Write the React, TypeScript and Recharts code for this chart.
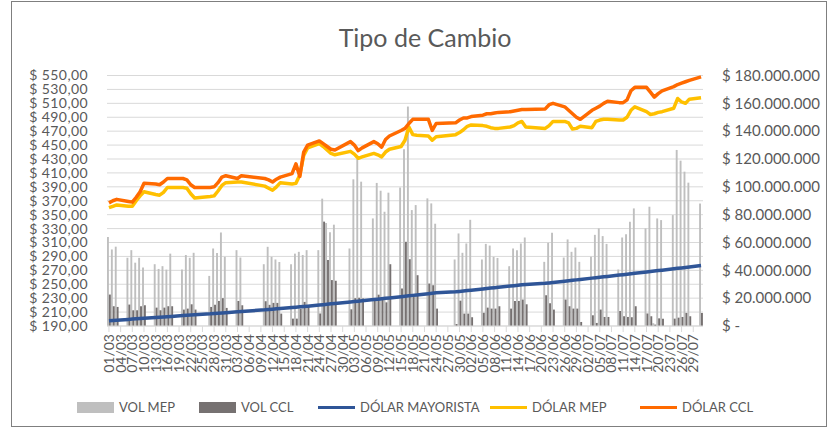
import React from 'react';
import { ComposedChart, Bar, Line, XAxis, YAxis, CartesianGrid, Legend } from 'recharts';

const tradeDays = [
  '01/03', '02/03', '03/03', '06/03', '07/03', '08/03', '09/03', '10/03', '13/03', '14/03', '15/03', '16/03', '17/03',
  '20/03', '21/03', '22/03', '23/03', '27/03', '28/03', '29/03', '30/03', '31/03',
  '03/04', '04/04', '10/04', '11/04', '12/04', '13/04', '14/04', '17/04', '18/04', '19/04', '20/04', '21/04',
  '24/04', '25/04', '26/04', '27/04', '28/04',
  '02/05', '03/05', '04/05', '05/05', '08/05', '09/05', '10/05', '11/05', '12/05', '15/05', '16/05', '17/05', '18/05', '19/05',
  '22/05', '23/05', '24/05', '29/05', '30/05', '31/05',
  '01/06', '02/06', '05/06', '06/06', '07/06', '08/06', '09/06', '12/06', '13/06', '14/06', '15/06', '16/06',
  '21/06', '22/06', '23/06', '26/06', '27/06', '28/06', '29/06', '30/06',
  '03/07', '04/07', '05/07', '06/07', '07/07', '10/07', '11/07', '12/07', '13/07', '14/07', '17/07', '18/07', '19/07', '20/07', '21/07',
  '24/07', '25/07', '26/07', '27/07', '28/07', '31/07',
];

// volumes in millions of $
const volMep = [
  64, 55, 57, 49, 54.5, 45.5, 49, 42, 44.4, 41, 43, 40.5, 52, 40.6, 51, 49, 52.6, 36, 55.7, 52.4, 67.2, 49.7,
  54.5, 49.2, 44.4, 56.9, 49.7, 47.8, 46, 44.4, 52, 53.3, 51, 54.5, 54.5, 91.5, 74, 67.3, 72.8,
  55.7, 105.4, 120, 103.7, 77.3, 102.8, 97.2, 82.1, 95.8, 99.5, 127, 157.7, 83.3, 86.9, 91.7, 88.1, 73.5, 47.8, 66.5, 52.6,
  59.3, 76.3, 47.8, 59, 57.8, 49.7, 48.9, 43, 55.7, 54.5, 59.3, 63.6, 46.1, 59.8, 67, 49.2, 62.2, 53.3, 56.4, 46.1,
  49.7, 65.5, 70.1, 64.6, 59, 40.6, 63.6, 66, 74.9, 84.5, 70.1, 85.7, 2, 77.3, 76.1, 79.7, 126.5, 118.8, 110.9, 103, 88,
];
const volCcl = [
  22.6, 14.2, 13.7, 15.4, 11.3, 11.3, 14.2, 14.9, 13.2, 11.3, 13.2, 14.2, 14.2, 11.8, 12.5, 15.6, 11.8, 13.7, 15.2, 18, 20, 13,
  18, 14.9, 17.8, 15.2, 16.6, 16.6, 8.9, 5.3, 5.3, 12.5, 17.3, 14.9, 9, 75, 47.5, 33, 32.5,
  12, 20, 20.3, 19.8, 19, 22.5, 20, 17, 44.4, 27, 60.5, 48, 22, 36.5, 30.5, 29.3, 12.5, 1.4, 18.2, 8.9,
  8.9, 6.3, 9.5, 13.2, 12.5, 12.5, 14.2, 12.5, 18, 18, 19, 15.6, 22.1, 16.3, 11.8, 19, 14.2, 12.5, 12.5, 2.9,
  7.7, 2.2, 11.8, 6.5, 6.5, 10.8, 7, 6.5, 6.3, 14.2, 9, 7, 1, 5.5, 5.2, 5.3, 6, 6.5, 9.4, 7, 9.4,
];
const dolarMayorista = [
  197.6, 198.0, 198.4, 199.5, 199.9, 200.3, 200.7, 201.1, 202.2, 202.6, 203.0, 203.4, 203.8, 205.0, 205.4, 205.8, 206.2,
  207.5, 208.0, 208.4, 208.8, 209.2,
  210.5, 211.0, 213.2, 213.7, 214.2, 214.7, 215.2, 216.5, 217.0, 217.5, 218.0, 218.5, 220.1, 220.7, 221.3, 221.9, 222.4,
  224.5, 225.1, 225.7, 226.3, 228.0, 228.6, 229.2, 229.8, 230.4, 232.2, 232.8, 233.4, 234.0, 234.6, 236.5, 237.1, 237.7,
  239.1, 239.7, 240.3,
  240.9, 241.5, 243.3, 243.9, 244.5, 245.1, 245.7, 247.4, 248.0, 248.6, 249.2, 249.8, 251.3, 251.9, 252.5,
  254.4, 255.0, 255.7, 256.3, 256.9,
  258.8, 259.4, 260.0, 260.7, 261.3, 263.2, 263.8, 264.5, 265.1, 265.7, 267.7, 268.3, 269.0, 269.6, 270.2,
  272.2, 272.9, 273.5, 274.2, 274.8, 276.8,
];
const dolarMep = [
  360, 362, 364, 362, 362, 370, 377, 383, 379, 378, 382, 389, 389, 389, 388, 380, 374, 376, 377, 384, 392, 396,
  397, 397, 391, 388, 385, 390, 396, 394, 395, 407, 435, 446, 452, 448, 443, 438, 436,
  441, 437, 431, 433, 438, 436, 433, 440, 444, 448, 457, 476, 465, 464, 463, 457, 462, 465, 468, 472,
  477, 479, 478, 477, 475, 474, 474, 476, 478, 482, 484, 476, 474, 478, 484, 484, 482, 473, 474, 477,
  475, 484, 486, 487, 487, 486, 486, 490, 500, 505, 498, 494, 495, 497, 498, 503, 517, 512, 510, 516, 518,
];
const dolarCcl = [
  367, 370, 372, 369, 368, 375, 383, 395, 394, 393, 397, 402, 402, 402, 400, 393, 389, 389, 390, 396, 404, 406,
  402, 406, 402, 400, 397, 401, 404, 409, 423, 405, 440, 450, 456, 452, 448, 444, 443,
  455, 450, 442, 446, 455, 452, 447, 458, 463, 471, 474, 481, 487, 487, 487, 471, 481, 482, 486, 489,
  489, 491, 493, 495, 495, 496, 497, 498, 499, 500, 501, 501, 502, 508, 510, 505, 500, 495, 490, 487,
  500, 503, 506, 510, 513, 511, 511, 515, 528, 533, 533, 526, 519, 524, 528, 534, 537, 539, 541, 543, 548,
];

const months: [string, number][] = [['03', 31], ['04', 30], ['05', 31], ['06', 30], ['07', 31]];
const leftTicks = [190, 210, 230, 250, 270, 290, 310, 330, 350, 370, 390, 410, 430, 450, 470, 490, 510, 530, 550];
const rightTicks = [0, 20, 40, 60, 80, 100, 120, 140, 160, 180];

const seriesNames = {
  volMep: 'VOL MEP',
  volCcl: 'VOL CCL',
  may: 'DÓLAR MAYORISTA',
  mep: 'DÓLAR MEP',
  ccl: 'DÓLAR CCL',
};

const pad2 = (n: number) => (n < 10 ? '0' + n : String(n));
const calendar = months.flatMap(([m, n]) => Array.from({ length: n }, (_, i) => `${pad2(i + 1)}/${m}`));

const data = calendar.map((label) => {
  const i = tradeDays.indexOf(label);
  if (i < 0) return { label };
  return {
    label,
    volMep: volMep[i],
    volCcl: volCcl[i],
    may: dolarMayorista[i],
    mep: dolarMep[i],
    ccl: dolarCcl[i],
  };
});

const FONT = "Lato, 'Liberation Sans', sans-serif";
const TXT = '#595959';

const fmtLeft = (v: number) => '$ ' + v.toFixed(2).replace('.', ',');
const fmtRight = (v: number) =>
  v === 0 ? '$ -' : '$ ' + String(Math.round(v * 1000000)).replace(/\B(?=(\d{3})+(?!\d))/g, '.');

const XTick = (props: any) => {
  const { x, y, payload } = props;
  return (
    <text
      x={x}
      y={y}
      transform={`rotate(-90 ${x} ${y})`}
      textAnchor="end"
      dy={5}
      fontSize={14}
      fontFamily={FONT}
      fill={TXT}
    >
      {payload.value}
    </text>
  );
};

const legendItems = [
  { name: seriesNames.volMep, color: '#BFBFBF', kind: 'box', x: 77 },
  { name: seriesNames.volCcl, color: '#767171', kind: 'box', x: 199 },
  { name: seriesNames.may, color: '#2F5597', kind: 'line', x: 318 },
  { name: seriesNames.mep, color: '#FFC000', kind: 'line', x: 490 },
  { name: seriesNames.ccl, color: '#FF6A00', kind: 'line', x: 640 },
];

const LegendContent = () => (
  <div style={{ position: 'relative', width: 837, height: 20, fontFamily: FONT }}>
    {legendItems.map((it) => (
      <div key={it.name} style={{ position: 'absolute', left: it.x, top: 0, height: 20, display: 'flex', alignItems: 'center' }}>
        {it.kind === 'box' ? (
          <div style={{ width: 37, height: 11, background: it.color }} />
        ) : (
          <div style={{ width: 37, height: 3, background: it.color }} />
        )}
        <span style={{ marginLeft: 5, fontSize: 13, color: TXT, whiteSpace: 'nowrap' }}>{it.name}</span>
      </div>
    ))}
  </div>
);

export default function App() {
  return (
    <div style={{ position: 'absolute', left: 0, top: 0, width: 837, height: 432, background: '#fff' }}>
      <div
        style={{
          position: 'absolute',
          left: 11,
          top: 1,
          width: 816,
          height: 426,
          border: '1px solid #7f7f7f',
          boxSizing: 'border-box',
        }}
      />
      <div
        style={{
          position: 'absolute',
          left: 0,
          top: 20,
          width: 850,
          textAlign: 'center',
          fontFamily: FONT,
          fontSize: 25,
          color: TXT,
          lineHeight: '34px',
        }}
      >
        Tipo de Cambio
      </div>
      <ComposedChart
        width={837}
        height={432}
        data={data}
        margin={{ top: 75.5, right: 14, bottom: 56, left: 17 }}
        barGap={0}
        barCategoryGap={0}
        style={{ position: 'absolute', left: 0, top: 0 }}
      >
        <CartesianGrid yAxisId="left" vertical={false} stroke="#d9d9d9" strokeWidth={1} />
        <XAxis
          dataKey="label"
          interval={2}
          tick={<XTick />}
          tickSize={6}
          tickMargin={2}
          height={50}
          axisLine={{ stroke: '#d9d9d9' }}
          tickLine={{ stroke: '#d9d9d9' }}
        />
        <YAxis
          yAxisId="left"
          orientation="left"
          domain={[190, 550]}
          ticks={leftTicks}
          interval={0}
          width={90}
          axisLine={false}
          tickLine={false}
          tickSize={0}
          tickMargin={19}
          tickFormatter={fmtLeft}
          tick={{ fontSize: 14, fontFamily: FONT, fill: TXT, letterSpacing: 0.4 }}
        />
        <YAxis
          yAxisId="right"
          orientation="right"
          domain={[0, 180]}
          ticks={rightTicks}
          interval={0}
          width={120}
          axisLine={false}
          tickLine={false}
          tickSize={0}
          tickMargin={19}
          tickFormatter={fmtRight}
          tick={{ fontSize: 15, fontFamily: FONT, fill: TXT }}
        />
        <Bar yAxisId="right" dataKey="volMep" name={seriesNames.volMep} fill="#BFBFBF" barSize={1.9} isAnimationActive={false} />
        <Bar yAxisId="right" dataKey="volCcl" name={seriesNames.volCcl} fill="#767171" barSize={1.9} isAnimationActive={false} />
        <Line
          yAxisId="left"
          type="linear"
          dataKey="may"
          name={seriesNames.may}
          stroke="#2F5597"
          strokeWidth={3.5}
          dot={false}
          connectNulls
          strokeLinejoin="round"
          isAnimationActive={false}
        />
        <Line
          yAxisId="left"
          type="linear"
          dataKey="mep"
          name={seriesNames.mep}
          stroke="#FFC000"
          strokeWidth={3.5}
          dot={false}
          connectNulls
          strokeLinejoin="round"
          isAnimationActive={false}
        />
        <Line
          yAxisId="left"
          type="linear"
          dataKey="ccl"
          name={seriesNames.ccl}
          stroke="#FF6A00"
          strokeWidth={3.5}
          dot={false}
          connectNulls
          strokeLinejoin="round"
          isAnimationActive={false}
        />
        <Legend
          layout="horizontal"
          verticalAlign="middle"
          align="center"
          content={<LegendContent />}
          wrapperStyle={{ left: 0, top: 397, width: 837, height: 20 }}
        />
      </ComposedChart>
    </div>
  );
}
